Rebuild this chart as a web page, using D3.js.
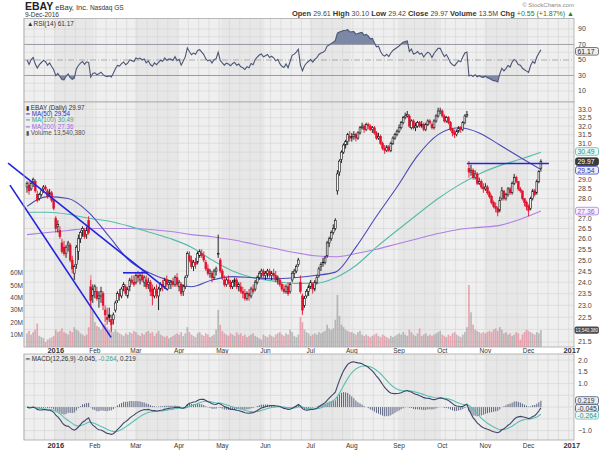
<!DOCTYPE html>
<html>
<head>
<meta charset="utf-8">
<script src="https://cdn.jsdelivr.net/npm/d3@7"></script>
<style>
  body { margin: 0; background: #fff; }
  svg { display: block; font-family: "Liberation Sans", Arial, sans-serif; }
</style>
</head>
<body>
<svg id="chart" width="600" height="450"></svg>
<script>
// ---------------------------------------------------------------- data
// trading days from 11-Dec-2015 to 9-Dec-2016, index 0..250
const monthLabels = ["2016", "Feb", "Mar", "Apr", "May", "Jun", "Jul", "Aug", "Sep", "Oct", "Nov", "Dec", "2017"];
const monthStart = [14, 33, 53, 74, 95, 116, 138, 158, 181, 202, 223, 244, 265];

const open = [
  28.6,28.7,28.5,28.9,28.9,28.2,28.0,28.2,28.5,28.6,28.4,28.2,28.3,27.9,
  27.0,26.6,26.4,25.8,25.6,25.3,25.7,25.7,25.0,24.4,24.8,25.4,26.0,26.4,26.4,26.2,26.9,23.8,23.4,
  23.6,23.6,23.3,23.4,23.5,22.8,22.5,22.6,22.4,22.4,22.8,23.2,23.5,23.4,23.8,23.8,23.4,23.8,24.1,24.0,
  24.0,24.3,24.1,24.3,24.0,24.1,23.9,24.0,23.7,23.4,23.6,23.4,23.7,23.9,23.8,24.1,23.9,23.9,24.0,23.9,24.2,
  23.8,23.9,23.6,23.8,24.3,25.2,25.0,24.7,24.9,24.9,25.2,25.3,25.2,24.9,24.6,24.4,24.4,24.2,24.5,25.3,25.0,
  24.5,24.1,23.9,24.1,24.0,23.8,24.0,24.1,23.8,23.8,23.6,23.5,23.3,23.5,23.4,23.7,23.7,24.0,24.2,24.4,24.5,
  24.3,24.4,24.5,24.3,24.4,24.3,24.1,24.1,23.9,23.7,23.6,23.8,23.6,24.1,24.4,24.5,24.8,24.0,23.4,23.0,23.4,23.6,
  23.8,23.9,23.7,24.0,24.3,24.7,24.9,24.9,25.2,25.8,26.0,26.3,26.5,28.4,29.4,30.1,30.5,30.9,31.1,31.4,
  31.3,31.4,31.5,31.3,31.6,31.9,32.0,31.8,32.1,32.0,31.8,31.9,31.6,31.3,31.4,31.0,30.7,30.6,30.8,30.6,31.0,31.3,31.5,
  31.7,31.9,32.2,32.5,32.6,32.6,31.9,32.3,31.9,32.0,32.2,32.0,32.1,31.8,32.1,32.3,32.1,31.9,32.3,32.6,32.9,
  32.9,32.6,32.3,32.5,32.2,31.8,31.6,31.5,31.7,31.9,31.8,32.2,32.6,29.6,29.4,29.5,29.1,29.3,28.8,28.9,28.6,
  28.5,28.6,28.3,28.1,27.8,27.6,27.5,27.4,28.0,28.4,28.0,28.2,28.5,28.3,28.8,29.1,28.9,28.5,28.4,28.0,27.8,
  27.6,27.5,28.0,28.4,28.3,28.9,29.61
];
const high = [
  28.9,28.9,28.9,29.1,29.0,28.4,28.3,28.5,28.7,28.7,28.5,28.5,28.4,28.0,
  27.1,26.9,26.6,26.0,25.9,25.7,25.9,25.8,25.2,24.8,25.7,26.2,26.4,26.6,26.5,26.6,27.1,24.1,23.9,
  23.9,23.8,23.6,23.8,23.6,23.0,22.9,22.9,22.6,22.7,23.2,23.6,23.7,23.8,24.0,23.9,23.8,24.2,24.3,24.3,
  24.4,24.5,24.4,24.5,24.3,24.3,24.2,24.1,23.9,23.8,23.9,23.8,24.0,24.1,24.2,24.3,24.1,24.1,24.2,24.3,24.4,
  24.1,24.0,23.9,24.3,25.4,25.4,25.2,25.0,25.1,25.4,25.5,25.5,25.4,25.0,24.8,24.6,24.5,24.6,24.7,26.2,25.1,
  24.6,24.3,24.2,24.3,24.1,24.1,24.2,24.2,24.0,24.0,23.8,23.7,23.6,23.7,23.8,23.9,24.1,24.3,24.5,24.6,24.6,
  24.5,24.6,24.6,24.5,24.6,24.5,24.3,24.2,24.0,23.9,23.9,24.0,24.0,24.5,24.6,24.8,25.1,24.3,23.5,23.4,23.7,23.9,
  24.1,24.0,24.1,24.3,24.7,24.9,25.1,25.2,25.9,26.1,26.4,26.7,27.0,29.5,30.1,30.6,31.0,31.2,31.6,31.7,
  31.6,31.7,31.6,31.7,32.0,32.2,32.1,32.2,32.2,32.1,32.0,32.0,31.7,31.6,31.5,31.1,30.9,30.9,30.9,31.1,31.4,31.6,31.8,
  32.1,32.3,32.6,32.8,32.9,32.7,32.4,32.4,32.2,32.3,32.3,32.3,32.2,32.2,32.4,32.4,32.2,32.4,32.7,33.1,33.1,
  33.0,32.7,32.6,32.6,32.3,31.9,31.8,31.8,32.0,32.0,32.3,32.7,32.9,30.0,29.8,29.6,29.5,29.4,29.1,29.0,28.8,
  28.8,28.7,28.4,28.2,27.9,27.8,27.6,28.1,28.6,28.4,28.3,28.6,28.6,28.9,29.3,29.2,28.9,28.6,28.4,28.0,27.9,
  27.7,28.1,28.5,28.5,29.0,29.5,30.10
];
const low = [
  28.3,28.2,28.4,28.6,28.3,27.8,27.9,28.1,28.3,28.4,28.0,28.1,27.8,27.4,
  26.3,26.3,26.0,25.3,25.2,25.1,25.4,24.9,24.4,24.1,24.6,25.0,25.8,26.1,26.0,26.0,26.2,22.9,23.1,
  23.3,23.2,22.9,23.1,22.8,22.3,22.2,22.3,21.9,22.2,22.7,23.1,23.2,23.3,23.6,23.4,23.3,23.6,23.9,23.8,
  23.9,24.0,23.9,24.0,23.8,23.7,23.7,23.4,23.0,23.3,23.3,22.8,23.6,23.6,23.7,23.8,23.7,23.7,23.8,23.8,23.8,
  23.6,23.4,23.4,23.7,24.2,24.9,24.6,24.5,24.6,24.8,25.1,25.1,24.9,24.5,24.3,24.2,24.0,24.1,24.3,25.1,24.4,
  24.1,23.8,23.8,23.9,23.7,23.7,23.8,23.7,23.6,23.5,23.3,23.2,23.2,23.2,23.3,23.5,23.6,23.9,24.1,24.2,24.2,
  24.1,24.2,24.2,24.1,24.2,24.0,23.9,23.8,23.6,23.5,23.5,23.4,23.5,24.0,24.2,24.4,24.7,23.5,22.6,22.9,23.3,23.4,
  23.7,23.5,23.6,23.9,24.2,24.5,24.7,24.8,25.1,25.6,25.9,26.2,26.4,28.2,29.2,29.9,30.4,30.7,30.9,31.1,
  31.1,31.2,31.1,31.2,31.5,31.8,31.6,31.7,31.8,31.7,31.6,31.5,31.2,31.2,30.9,30.6,30.4,30.5,30.5,30.5,30.9,31.2,31.4,
  31.6,31.8,32.1,32.4,32.5,31.9,31.8,31.8,31.7,31.9,31.9,31.9,31.7,31.7,32.0,32.1,31.8,31.8,32.2,32.5,32.7,
  32.5,32.2,32.2,32.1,31.7,31.4,31.3,31.4,31.6,31.6,31.7,32.1,32.5,29.1,29.2,29.0,29.0,28.7,28.7,28.5,28.3,
  28.4,28.2,28.0,27.7,27.5,27.3,27.1,27.3,27.9,27.9,27.9,28.1,28.2,28.2,28.7,28.8,28.4,28.3,27.9,27.6,27.4,
  27.1,27.4,27.9,28.1,28.2,28.8,29.42
];
const close = [
  28.8,28.4,28.8,29.0,28.4,27.9,28.2,28.4,28.6,28.5,28.1,28.3,27.9,27.5,
  26.5,26.7,26.1,25.4,25.3,25.6,25.8,25.0,24.6,24.7,25.6,26.0,26.3,26.5,26.1,26.4,26.3,23.2,23.7,
  23.8,23.3,23.4,23.6,23.0,22.6,22.4,22.5,22.2,22.6,23.1,23.5,23.4,23.7,23.9,23.5,23.7,24.1,24.0,23.9,
  24.3,24.2,24.3,24.1,24.2,23.8,24.0,23.6,23.4,23.7,23.5,23.7,23.9,23.8,24.1,23.9,24.0,24.0,23.9,24.2,23.9,
  24.0,23.5,23.8,24.2,25.3,25.0,24.7,24.9,24.8,25.3,25.4,25.2,25.0,24.6,24.4,24.5,24.2,24.5,24.6,25.3,24.5,
  24.2,23.9,24.1,24.0,23.8,24.0,24.1,23.8,23.9,23.6,23.5,23.3,23.5,23.4,23.7,23.6,24.0,24.2,24.4,24.5,24.3,
  24.4,24.5,24.3,24.4,24.3,24.1,24.2,23.9,23.7,23.6,23.8,23.5,23.9,24.4,24.5,24.7,25.0,23.6,22.8,23.3,23.6,23.8,
  24.0,23.7,24.0,24.2,24.6,24.8,24.9,25.1,25.8,26.0,26.3,26.5,26.9,29.3,30.0,30.5,30.9,31.1,31.5,31.3,
  31.4,31.5,31.3,31.6,31.9,32.0,31.8,32.1,32.0,31.8,31.9,31.6,31.3,31.4,31.0,30.7,30.6,30.8,30.6,31.0,31.3,31.5,31.7,
  31.9,32.2,32.5,32.6,32.7,32.0,32.3,31.9,32.0,32.2,32.0,32.1,31.8,32.1,32.3,32.2,31.9,32.3,32.6,32.9,32.9,
  32.6,32.3,32.5,32.2,31.8,31.6,31.5,31.7,31.9,31.8,32.2,32.6,32.7,29.4,29.5,29.1,29.3,28.8,28.9,28.6,28.5,
  28.6,28.3,28.1,27.8,27.6,27.5,27.3,27.9,28.4,28.0,28.2,28.5,28.3,28.8,29.1,28.9,28.5,28.4,28.0,27.8,27.6,
  27.4,28.0,28.4,28.2,28.9,29.42,29.97
];
// volume, millions of shares
const volume = [
  11,13,10,12,14,19,9,8,7,4,6,7,8,9,
  14,12,13,15,12,11,10,13,12,16,14,13,11,10,9,10,16,58,30,
  20,17,16,14,18,19,16,14,18,12,14,12,11,10,9,11,10,12,11,13,
  12,10,9,11,10,12,13,11,12,9,11,13,10,9,8,9,7,8,9,10,11,
  10,12,9,11,16,12,10,9,8,11,12,10,9,11,10,8,9,10,14,30,18,
  13,11,10,9,11,10,9,12,10,11,9,10,8,9,10,11,9,8,7,6,10,
  9,8,10,9,8,10,11,12,10,9,11,10,14,12,9,8,10,24,20,14,12,11,
  9,10,11,10,12,11,12,13,18,15,14,15,22,42,25,18,16,14,13,12,
  12,11,10,12,13,10,9,10,9,8,9,10,11,9,8,10,9,8,7,9,8,9,10,
  11,10,12,10,9,14,12,10,9,11,15,9,10,11,9,10,9,10,11,12,13,
  10,9,8,10,9,11,12,10,9,8,10,12,16,50,28,18,14,13,12,11,12,
  11,12,13,12,14,15,13,16,14,11,12,10,11,9,10,12,11,6,10,12,14,
  13,12,11,10,12,11,13.54
];

// moving averages read every 10 trading days
const maIdx = d3.range(0, 251, 10);
const ma50 = [27.6,28.1,28.0,27.3,26.1,24.95,24.4,24.05,23.8,24.1,24.25,24.2,24.15,24.2,24.3,24.45,25.6,27.1,28.6,30.3,31.5,31.9,31.6,30.9,30.2,29.54];
const ma100 = [27.3,27.3,27.2,27.0,26.85,26.6,26.3,26.0,25.6,25.0,24.5,24.2,24.05,23.95,23.95,24.2,24.75,25.6,26.4,27.2,28.0,28.7,29.3,29.75,30.1,30.49];
const ma200 = [26.2,26.3,26.4,26.5,26.5,26.5,26.45,26.35,26.2,26.1,25.95,25.75,25.55,25.35,25.2,25.15,25.3,25.5,25.75,26.0,26.25,26.45,26.55,26.65,26.95,27.36];

// drawn trendlines (start/end as trading-day index and price)
const trendLines = [
  { i0: -9.2, p0: 29.89, i1: 68.6, p1: 23.65 },
  { i0: -8.3, p0: 28.70, i1: 40.9, p1: 21.68 },
  { i0: 46.7, p0: 24.42, i1: 58.8, p1: 24.42 },
  { i0: 214, p0: 29.87, i1: 253.9, p1: 29.87 }
];

const priceTicks = d3.range(21.5, 33.01, 0.5);
const rsiTicks = [10, 30, 50, 70, 90];
const macdTicks = [-1.0, -0.5, 0.5, 1.0, 1.5, 2.0];
const volTicks = [10, 20, 30, 40, 50, 60];

// ---------------------------------------------------------------- indicators
const n = close.length;

// RSI(14), Wilder smoothing
const rsi = [];
let ag = 0.12, al = 0.12;
for (let i = 0; i < n; i++) {
  if (i > 0) {
    const d = close[i] - close[i - 1];
    ag = (ag * 13 + Math.max(d, 0)) / 14;
    al = (al * 13 + Math.max(-d, 0)) / 14;
  }
  rsi.push(100 - 100 / (1 + ag / al));
}

// MACD(12,26,9)
const macd = [], signal = [], hist = [];
let e12 = close[0], e26 = close[0], sig = 0;
for (let i = 0; i < n; i++) {
  e12 += (close[i] - e12) * 2 / 13;
  e26 += (close[i] - e26) * 2 / 27;
  const m = e12 - e26;
  sig += (m - sig) * 2 / 10;
  macd.push(m); signal.push(sig); hist.push(m - sig);
}

// ---------------------------------------------------------------- layout
const svg = d3.select("#chart");
const L = 24, R = 574;
const rsiP = { t: 18.5, b: 102 };
const mainP = { t: 102, b: 347 };
const macdP = { t: 354, b: 440 };

const x = d3.scaleLinear().domain([-1.46, 266.1]).range([L, R]);
const y = d3.scaleLog().domain([21.3, 33.45]).range([mainP.b, mainP.t]);
const yRsi = d3.scaleLinear().domain([-4.2, 103.5]).range([rsiP.b, rsiP.t]);
const yMacd = d3.scaleLinear().domain([-1.4, 2.26]).range([macdP.b, macdP.t]);
const yVol = d3.scaleLinear().domain([0, 10]).range([mainP.b, mainP.b - 12.4]);

const weekIdx = d3.range(-1, 266, 5);

function panelBg(p) {
  const g = svg.append("g");
  g.append("rect").attr("x", L).attr("y", p.t).attr("width", R - L).attr("height", p.b - p.t)
    .attr("fill", "#efefef");
  // alternating month shading
  const edges = [x.domain()[0] + 0.5].concat(monthStart);
  edges.forEach((s, k) => {
    if (k % 2 === 0 || k >= edges.length - 1) return;
    const e = edges[k + 1];
    g.append("rect").attr("x", x(s - 0.5)).attr("y", p.t)
      .attr("width", x(e - 0.5) - x(s - 0.5)).attr("height", p.b - p.t).attr("fill", "#e7e7e7");
  });
  g.selectAll("line.v").data(weekIdx).enter().append("line")
    .attr("x1", d => x(d - 0.5)).attr("x2", d => x(d - 0.5))
    .attr("y1", p.t).attr("y2", p.b)
    .attr("stroke", "#d7d7d7").attr("stroke-width", 0.7);
  return g;
}

function panelBorder(p) {
  svg.append("rect").attr("x", L).attr("y", p.t).attr("width", R - L).attr("height", p.b - p.t)
    .attr("fill", "none").attr("stroke", "#a9a9a9").attr("stroke-width", 0.8);
}

function hGrid(g, scale, vals) {
  g.selectAll(null).data(vals).enter().append("line")
    .attr("x1", L).attr("x2", R)
    .attr("y1", d => scale(d)).attr("y2", d => scale(d))
    .attr("stroke", "#d7d7d7").attr("stroke-width", 0.7);
}

// tick labels on the right, leaving out those hidden under a value box
function rightLabels(scale, vals, fmt, boxes) {
  const shown = vals.filter(v => boxes.every(b => Math.abs(scale(v) - b) > 6));
  svg.append("g").selectAll("text").data(shown).enter().append("text")
    .attr("x", R + 4).attr("y", d => scale(d) + 2.5)
    .attr("font-size", 7).attr("fill", "#444")
    .text(fmt);
}

function valueBox(yPos, txt, stroke, fill, color) {
  const g = svg.append("g");
  g.append("rect").attr("x", R + 1.5).attr("y", yPos - 3.8).attr("width", 23).attr("height", 7.6)
    .attr("rx", 2).attr("fill", fill).attr("stroke", stroke).attr("stroke-width", 0.8);
  g.append("text").attr("x", R + 3.5).attr("y", yPos + 2.5).attr("font-size", 6.8)
    .attr("fill", color).text(txt);
}

function dateAxis(yPos) {
  svg.append("g").selectAll("text").data(monthLabels).enter().append("text")
    .attr("x", (d, k) => x(monthStart[k]))
    .attr("y", yPos)
    .attr("text-anchor", "middle")
    .attr("font-size", (d, k) => (k === 0 || k === monthLabels.length - 1) ? 7.5 : 6.5)
    .attr("font-weight", (d, k) => (k === 0 || k === monthLabels.length - 1) ? "bold" : "normal")
    .attr("fill", "#333")
    .text(d => d);
}

// ---------------------------------------------------------------- header
const head = svg.append("g");
head.append("text").attr("x", L + 1).attr("y", 10).attr("font-size", 7.5).attr("fill", "#333")
  .call(t => {
    t.append("tspan").attr("font-size", 10.5).attr("font-weight", "bold").attr("fill", "#222").text("EBAY");
    t.append("tspan").text(" eBay, Inc.");
    t.append("tspan").attr("font-size", 6.5).text("  Nasdaq GS");
  });
head.append("text").attr("x", L + 1).attr("y", 17).attr("font-size", 6.5).attr("fill", "#333").text("9-Dec-2016");
head.append("text").attr("x", R).attr("y", 7).attr("text-anchor", "end").attr("font-size", 6)
  .attr("fill", "#888").text("© StockCharts.com");
const quote = [["Open", "29.61"], ["High", "30.10"], ["Low", "29.42"], ["Close", "29.97"], ["Volume", "13.5M"], ["Chg", "+0.55 (+1.87%) ▲"]];
head.append("text").attr("x", R).attr("y", 16).attr("text-anchor", "end").attr("font-size", 7).attr("fill", "#333")
  .call(t => quote.forEach(([k, v], j) => {
    t.append("tspan").attr("font-weight", "bold").attr("font-size", 7.5).text((j ? "  " : "") + k + " ");
    t.append("tspan").attr("fill", j === 5 ? "#2a7a2a" : "#444").text(v);
  }));

// ---------------------------------------------------------------- RSI panel
const gR = panelBg(rsiP);
hGrid(gR, yRsi, [10, 20, 40, 60, 80, 90]);
[30, 70].forEach(v => gR.append("line").attr("x1", L).attr("x2", R).attr("y1", yRsi(v)).attr("y2", yRsi(v))
  .attr("stroke", "#9a9a9a").attr("stroke-width", 0.9));
gR.append("line").attr("x1", L).attr("x2", R).attr("y1", yRsi(50)).attr("y2", yRsi(50))
  .attr("stroke", "#999").attr("stroke-width", 0.8).attr("stroke-dasharray", "6,2,1,2");

const rsiLine = d3.line().x((d, i) => x(i)).y(d => yRsi(d));
svg.append("clipPath").attr("id", "ob").append("rect")
  .attr("x", L).attr("y", rsiP.t).attr("width", R - L).attr("height", yRsi(70) - rsiP.t);
svg.append("clipPath").attr("id", "os").append("rect")
  .attr("x", L).attr("y", yRsi(30)).attr("width", R - L).attr("height", rsiP.b - yRsi(30));
const rsiArea70 = d3.area().x((d, i) => x(i)).y0(yRsi(70)).y1(d => yRsi(d));
const rsiArea30 = d3.area().x((d, i) => x(i)).y0(yRsi(30)).y1(d => yRsi(d));
svg.append("path").datum(rsi).attr("d", rsiArea70).attr("fill", "#7d87a6").attr("clip-path", "url(#ob)");
svg.append("path").datum(rsi).attr("d", rsiArea30).attr("fill", "#7d87a6").attr("clip-path", "url(#os)");
svg.append("path").datum(rsi).attr("d", rsiLine).attr("fill", "none")
  .attr("stroke", "#4b5676").attr("stroke-width", 1.1);
panelBorder(rsiP);
rightLabels(yRsi, rsiTicks, d => d, [yRsi(61.17)]);
valueBox(yRsi(61.17), "61.17", "#555", "#eee", "#222");
svg.append("text").attr("x", L + 3).attr("y", rsiP.t + 7).attr("font-size", 6.5).attr("fill", "#333")
  .text("▲RSI(14) 61.17");

// ---------------------------------------------------------------- price panel
const gM = panelBg(mainP);
hGrid(gM, y, priceTicks);

// volume
const idx = d3.range(n);
const isDown = i => i > 0 && close[i] < close[i - 1];
svg.append("g").selectAll("rect").data(idx).enter().append("rect")
  .attr("x", i => x(i) - 0.85).attr("width", 1.7)
  .attr("y", i => yVol(volume[i])).attr("height", i => mainP.b - yVol(volume[i]))
  .attr("fill", i => isDown(i) ? "#e0506a" : "#7a7a7a")
  .attr("fill-opacity", 0.45);

// moving averages
const maLine = d3.line().x(d => x(d[0])).y(d => y(d[1])).curve(d3.curveMonotoneX);
[[ma200, "#b07ee6"], [ma100, "#55bcaa"], [ma50, "#4a4ab8"]].forEach(([arr, col]) => {
  svg.append("path").datum(maIdx.map((i, k) => [i, arr[k]])).attr("d", maLine)
    .attr("fill", "none").attr("stroke", col).attr("stroke-width", 1.1);
});

// candles
const candleCol = i => isDown(i) ? "#e3122e" : "#111";
const gC = svg.append("g");
gC.selectAll("line").data(idx).enter().append("line")
  .attr("x1", i => x(i)).attr("x2", i => x(i))
  .attr("y1", i => y(high[i])).attr("y2", i => y(low[i]))
  .attr("stroke", candleCol).attr("stroke-width", 0.9);
gC.selectAll("rect").data(idx).enter().append("rect")
  .attr("x", i => x(i) - 0.9).attr("width", 1.8)
  .attr("y", i => y(Math.max(open[i], close[i])))
  .attr("height", i => Math.max(0.6, Math.abs(y(open[i]) - y(close[i]))))
  .attr("fill", i => close[i] < open[i] ? candleCol(i) : "#f4f4f4")
  .attr("stroke", candleCol).attr("stroke-width", 0.6);

// trendlines
svg.append("g").selectAll("line").data(trendLines).enter().append("line")
  .attr("x1", d => x(d.i0)).attr("y1", d => y(d.p0))
  .attr("x2", d => x(d.i1)).attr("y2", d => y(d.p1))
  .attr("stroke", "#2424e0").attr("stroke-width", 1.6);

panelBorder(mainP);
const mainBoxes = [y(30.49), y(29.97), y(29.54), y(27.36), yVol(13.54)];
rightLabels(y, priceTicks, d3.format(".1f"), mainBoxes);

// volume axis on left
svg.append("g").selectAll("text").data(volTicks).enter().append("text")
  .attr("x", L - 1).attr("y", d => yVol(d) + 2.5).attr("text-anchor", "end")
  .attr("font-size", 6.5).attr("fill", "#444").text(d => d + "M");

valueBox(y(30.49) - 0.8, "30.49", "#55bcaa", "#eef7f5", "#2d8f7e");
valueBox(y(29.97), "29.97", "#333", "#3a3a3a", "#fff");
valueBox(y(29.54) + 0.8, "29.54", "#4a4ab8", "#eeeefa", "#3333aa");
valueBox(y(27.36), "27.36", "#b07ee6", "#f5eefb", "#9a5ad6");
svg.append("rect").attr("x", R + 0.5).attr("y", yVol(13.54) - 3.6).attr("width", 24.5).attr("height", 7.2)
  .attr("rx", 2).attr("fill", "#4a4a4a");
svg.append("text").attr("x", R + 1.5).attr("y", yVol(13.54) + 1.8).attr("font-size", 4.5)
  .attr("fill", "#fff").text("13,540,380");

// legend
const legend = [
  ["▮ EBAY (Daily) 29.97", "#333"],
  ["━ MA(50) 29.54", "#3333bb"],
  ["━ MA(100) 30.49", "#3aa593"],
  ["━ MA(200) 27.36", "#a066dd"],
  ["▮ Volume 13,540,380", "#555"]
];
svg.append("g").selectAll("text").data(legend).enter().append("text")
  .attr("x", L + 2).attr("y", (d, k) => mainP.t + 7.5 + k * 6.4)
  .attr("font-size", 6.3).attr("fill", d => d[1]).text(d => d[0]);

dateAxis(352.5);

// ---------------------------------------------------------------- MACD panel
const gD = panelBg(macdP);
hGrid(gD, yMacd, [-1.0, -0.5, 0, 0.5, 1.0, 1.5, 2.0]);
svg.append("g").selectAll("line").data(idx).enter().append("line")
  .attr("x1", i => x(i)).attr("x2", i => x(i))
  .attr("y1", yMacd(0)).attr("y2", i => yMacd(hist[i]))
  .attr("stroke", "#4b5575").attr("stroke-width", 0.9);
const macdLine = d3.line().x((d, i) => x(i)).y(d => yMacd(d));
svg.append("path").datum(signal).attr("d", macdLine).attr("fill", "none")
  .attr("stroke", "#5cc0b2").attr("stroke-width", 1.1);
svg.append("path").datum(macd).attr("d", macdLine).attr("fill", "none")
  .attr("stroke", "#3c4668").attr("stroke-width", 1.1);
panelBorder(macdP);
const macdBoxes = [yMacd(0.219) - 1.5, yMacd(-0.045), yMacd(-0.264) + 2];
rightLabels(yMacd, macdTicks, d3.format(".1f"), macdBoxes);
valueBox(macdBoxes[0], "0.219", "#4b5575", "#eee", "#333");
valueBox(macdBoxes[1], "-0.045", "#3c4668", "#eee", "#333");
valueBox(macdBoxes[2], "-0.264", "#5cc0b2", "#eef7f5", "#2d8f7e");
svg.append("text").attr("x", L + 2).attr("y", macdP.t + 7).attr("font-size", 6.3).attr("fill", "#333")
  .call(t => {
    t.append("tspan").text("━ MACD(12,26,9) -0.045, ");
    t.append("tspan").attr("fill", "#3aa593").text("-0.264");
    t.append("tspan").text(", 0.219");
  });

dateAxis(447.5);
</script>
</body>
</html>
